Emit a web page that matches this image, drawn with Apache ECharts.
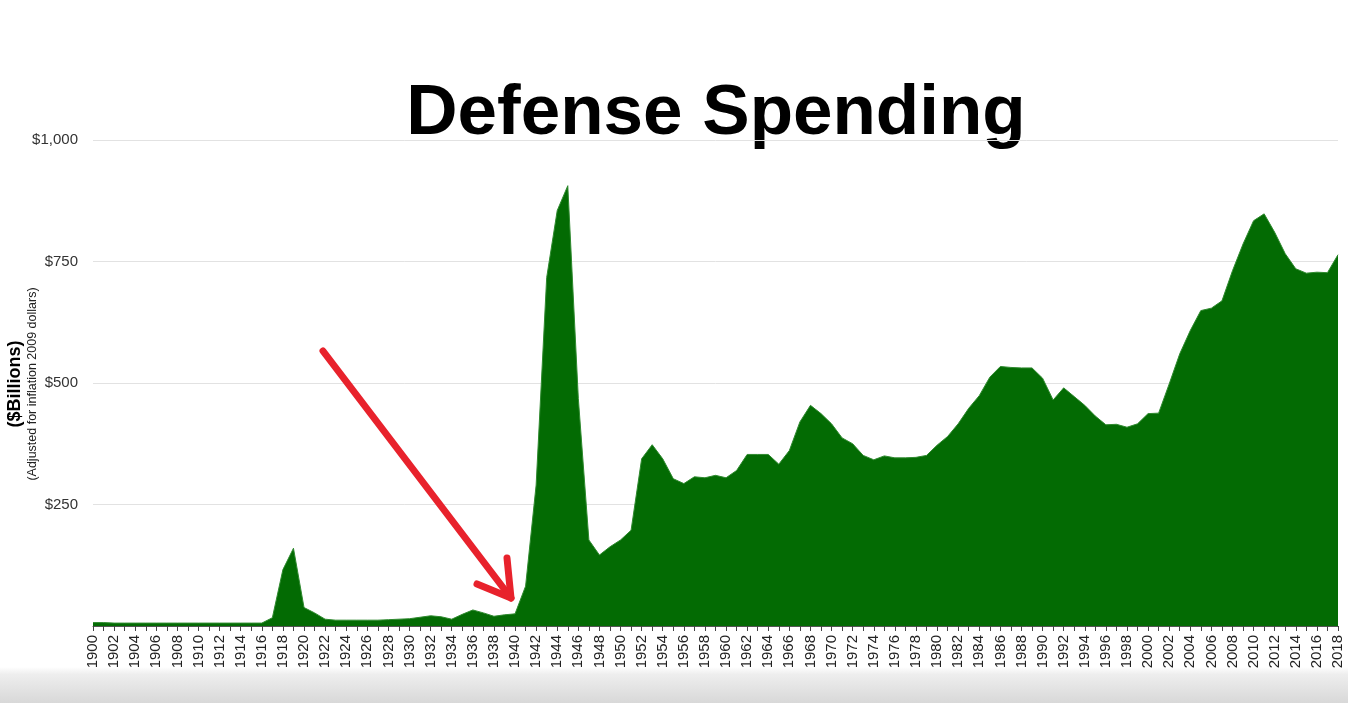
<!DOCTYPE html>
<html>
<head>
<meta charset="utf-8"/>
<title>Defense Spending</title>
<script src="https://cdn.jsdelivr.net/npm/echarts@6/dist/echarts.min.js"></script>
<style>
  html, body { margin: 0; padding: 0; background: #fff; }
  #main { width: 1348px; height: 703px; }
</style>
</head>
<body>
<div id="main"></div>
<script type="text/javascript">
// years 1900 .. 2018
var years = [];
for (var y = 1900; y <= 2018; y++) { years.push(String(y)); }

// defense spending, $ billions (2009 dollars)
var spend1900s = [7, 7, 6, 6, 6, 6, 6, 6, 6, 6, 6, 6, 6, 6, 6, 6, 6, 17, 116, 160];
var spend1920s = [38, 27, 14, 12, 12, 12, 12, 12, 13, 14, 15, 18, 21, 19, 14, 24, 33, 27, 20, 23];
var spend1940s = [25, 82, 290, 717, 855, 906, 468, 177, 146, 163, 177, 197, 344, 373, 344, 303, 293, 307, 305, 310];
var spend1960s = [305, 320, 353, 353, 353, 333, 361, 420, 454, 437, 416, 387, 375, 351, 342, 350, 346, 346, 347, 351];
var spend1980s = [372, 390, 416, 448, 474, 512, 534, 532, 531, 531, 510, 465, 490, 472, 454, 432, 414, 415, 409, 416];
var spend2000s = [437, 438, 498, 560, 608, 649, 654, 669, 731, 786, 834, 848, 810, 766, 735, 726, 728, 727, 764];
var spending = [].concat(spend1900s, spend1920s, spend1940s, spend1960s, spend1980s, spend2000s);

var yTicks = { 250: '$250', 500: '$500', 750: '$750', 1000: '$1,000' };

var chart = echarts.init(document.getElementById('main'));
var option = {
  backgroundColor: '#ffffff',
  animation: false,
  grid: { left: 93, right: 10, top: 140, bottom: 77, containLabel: false },
  xAxis: {
    type: 'category',
    data: years,
    boundaryGap: false,
    axisLine: { show: true, lineStyle: { color: '#555', width: 1 } },
    axisTick: { show: true, interval: 0, length: 5, lineStyle: { color: '#444' } },
    axisLabel: {
      interval: 1,
      rotate: 90,
      margin: 9,
      color: '#222',
      fontSize: 15,
      fontFamily: 'Liberation Sans, Arial, sans-serif'
    },
    splitLine: { show: false }
  },
  yAxis: {
    type: 'value',
    min: 0,
    max: 1000,
    interval: 250,
    axisLine: { show: false },
    axisTick: { show: false },
    axisLabel: {
      margin: 15,
      color: '#333',
      fontSize: 15,
      fontFamily: 'Liberation Sans, Arial, sans-serif',
      formatter: function (v) { return yTicks[v] || ''; }
    },
    splitLine: { show: true, lineStyle: { color: '#e2e2e2', width: 1 } }
  },
  series: [{
    name: 'Defense Spending',
    type: 'line',
    data: spending,
    symbol: 'none',
    smooth: false,
    lineStyle: { color: '#2f8a2f', width: 1 },
    areaStyle: { color: '#036b03', opacity: 1 }
  }],
  graphic: [
    {
      type: 'text',
      x: 716, y: 114,
      style: {
        text: 'Defense Spending',
        fill: '#000',
        font: 'bold 71px "Liberation Sans", Arial, sans-serif',
        align: 'center',
        verticalAlign: 'middle'
      }
    },
    {
      type: 'text',
      x: 15, y: 384,
      rotation: Math.PI / 2,
      style: {
        text: '($Billions)',
        fill: '#000',
        font: 'bold 18px "Liberation Sans", Arial, sans-serif',
        align: 'center',
        verticalAlign: 'middle'
      }
    },
    {
      type: 'text',
      x: 33, y: 384,
      rotation: Math.PI / 2,
      style: {
        text: '(Adjusted for inflation 2009 dollars)',
        fill: '#222',
        font: '12.5px "Liberation Sans", Arial, sans-serif',
        align: 'center',
        verticalAlign: 'middle'
      }
    },
    // red annotation arrow
    {
      type: 'polyline',
      shape: { points: [[323, 351], [511, 598]] },
      style: { stroke: '#e8222c', lineWidth: 7, lineCap: 'round' },
      z: 100
    },
    {
      type: 'polyline',
      shape: { points: [[477, 584], [511, 598], [507, 558]] },
      style: { stroke: '#e8222c', lineWidth: 7, lineCap: 'round', lineJoin: 'round', fill: null },
      z: 100
    },
    // grey shade at the bottom of the screenshot
    {
      type: 'rect',
      shape: { x: 0, y: 667, width: 1348, height: 36 },
      style: {
        fill: new echarts.graphic.LinearGradient(0, 0, 0, 1, [
          { offset: 0, color: 'rgba(255,255,255,1)' },
          { offset: 0.2, color: '#eeeeee' },
          { offset: 1, color: '#d8d8d8' }
        ])
      },
      z: -1
    }
  ]
};
chart.setOption(option);
</script>
</body>
</html>
